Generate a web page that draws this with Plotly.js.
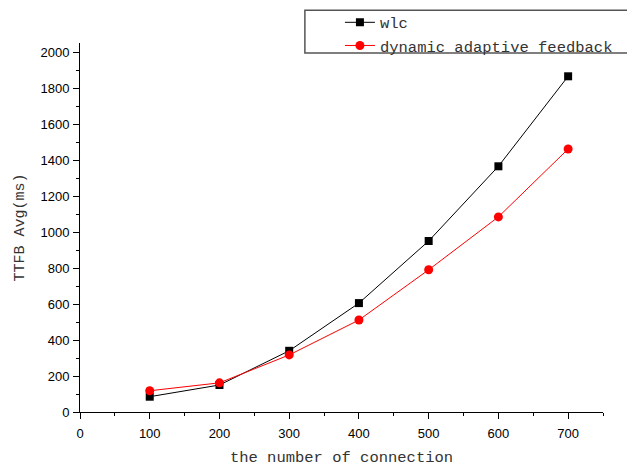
<!DOCTYPE html>
<html><head><meta charset="utf-8">
<script src="https://cdn.plot.ly/plotly-3.0.1.min.js"></script>
<style>html,body{margin:0;padding:0;background:#fff;}</style>
</head><body>
<div id="chart" style="width:627px;height:467px;"></div>
<script>
const connections = [100, 200, 300, 400, 500, 600, 700];
const wlc = [85, 150, 340, 605, 950, 1365, 1865];
const dynamicFeedback = [118, 162, 317, 511, 790, 1084, 1461];
const seriesNames = ["wlc", "dynamic adaptive feedback"];
const xTitle = "the number of connection";
const yTitle = "TTFB Avg(ms)";

const monoFont = "Liberation Mono, SimSun, monospace";

const traces = [
  {x: connections, y: wlc, name: seriesNames[0], type: "scatter", mode: "lines+markers",
   line: {color: "#000000", width: 1}, marker: {symbol: "square", size: 8, color: "#000000"}},
  {x: connections, y: dynamicFeedback, name: seriesNames[1], type: "scatter", mode: "lines+markers",
   line: {color: "#ff0000", width: 1}, marker: {symbol: "circle", size: 9, color: "#ff0000"}}
];

const layout = {
  width: 627, height: 467,
  margin: {l: 80, r: 24, t: 43, b: 55, autoexpand: false},
  paper_bgcolor: "#ffffff", plot_bgcolor: "#ffffff",
  showlegend: true,
  legend: {x: 0.497, y: 1.101, xanchor: "left", yanchor: "top", bgcolor: "rgba(0,0,0,0)",
           borderwidth: 0, font: {family: monoFont, size: 15.5, color: "#333"}, tracegroupgap: 0},
  xaxis: {range: [0, 750], tickvals: [0,100,200,300,400,500,600,700], ticks: "outside", ticklen: 6,
          tickcolor: "#000", linecolor: "#000", linewidth: 1, showline: true, showgrid: false, zeroline: false,
          ticklabelstandoff: 3,
          minor: {dtick: 50, ticks: "outside", ticklen: 3, tickcolor: "#000"},
          tickfont: {family: "Liberation Sans, Arial", size: 13, color: "#000"},
          title: {text: xTitle, font: {family: monoFont, size: 15.5, color: "#333"}, standoff: 16}},
  yaxis: {range: [0, 2050], dtick: 200, ticks: "outside", ticklen: 6,
          tickcolor: "#000", linecolor: "#000", linewidth: 1, showline: true, showgrid: false, zeroline: false,
          ticklabelstandoff: 1,
          minor: {dtick: 100, ticks: "outside", ticklen: 3, tickcolor: "#000"},
          tickfont: {family: "Liberation Sans, Arial", size: 13, color: "#000"},
          title: {text: yTitle, font: {family: monoFont, size: 15, color: "#333"}, standoff: 12}},
  shapes: [{type: "rect", xref: "paper", yref: "paper", x0: 0.430, x1: 1.07, y0: 0.973, y1: 1.089,
            line: {color: "#555", width: 1.5}, fillcolor: "rgba(0,0,0,0)"}]
};

Plotly.newPlot("chart", traces, layout, {displayModeBar: false, staticPlot: true});
</script>
</body></html>
